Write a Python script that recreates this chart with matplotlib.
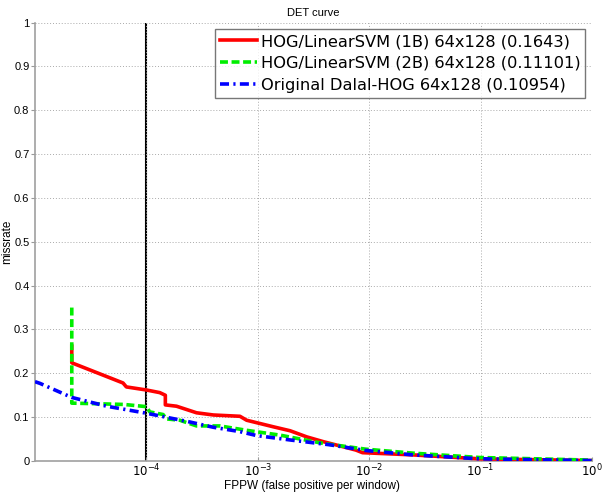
import numpy as np
import matplotlib
matplotlib.use("Agg")
import matplotlib.pyplot as plt

plt.rcParams['font.family'] = ['Liberation Sans', 'DejaVu Sans']

# DET curves, x = log10(FPPW), y = miss rate
x_1b = [-4.67, -4.67, -4.67, -4.21, -4.18, -4.0, -3.88, -3.83, -3.83, -3.73, -3.55,
        -3.40, -3.16, -3.10, -2.86, -2.71, -2.56, -2.41, -2.12, -2.06, -1.61, -1.01, 0.0]
y_1b = [0.262, 0.240, 0.224, 0.178, 0.169, 0.162, 0.156, 0.150, 0.128, 0.125, 0.110,
        0.105, 0.102, 0.093, 0.078, 0.069, 0.055, 0.044, 0.025, 0.019, 0.014, 0.005, 0.001]

x_2b = [-4.67, -4.67, -4.50, -4.20, -4.0, -3.97, -3.85, -3.82, -3.70, -3.55, -3.34,
        -3.10, -2.80, -2.41, -2.03, -1.61, -1.01, 0.0]
y_2b = [0.350, 0.132, 0.131, 0.129, 0.124, 0.112, 0.106, 0.096, 0.093, 0.080, 0.080,
        0.070, 0.059, 0.040, 0.027, 0.018, 0.008, 0.002]

x_dalal = [-5.0, -4.955, -4.67, -4.357, -4.0, -3.61, -3.40, -3.16, -3.01, -2.71,
           -2.354, -2.03, -1.61, -1.01, 0.0]
y_dalal = [0.181, 0.177, 0.145, 0.125, 0.109, 0.089, 0.077, 0.067, 0.058, 0.048,
           0.037, 0.024, 0.014, 0.005, 0.001]

labels = ["HOG/LinearSVM (1B) 64x128 (0.1643)",
          "HOG/LinearSVM (2B) 64x128 (0.11101)",
          "Original Dalal-HOG 64x128 (0.10954)"]

ref_fppw = 1e-4

fig = plt.figure(figsize=(6.08, 4.92), dpi=100)
ax = fig.add_axes([0.0576, 0.063, 0.916, 0.891])

ax.plot([ref_fppw, ref_fppw], [0, 1], color="k", lw=1.5, zorder=1)
ax.plot(10 ** np.array(x_1b), y_1b, color="#ff0000", lw=2.6, ls="-", label=labels[0], zorder=3)
ax.plot(10 ** np.array(x_2b), y_2b, color="#00ee00", lw=2.6, ls=(0, (2.2, 1.0)), label=labels[1], zorder=4)
ax.plot(10 ** np.array(x_dalal), y_dalal, color="#0000ff", lw=2.6, ls=(0, (2.5, 1.2, 0.6, 1.2)),
        label=labels[2], zorder=5)

ax.set_xscale("log")
ax.set_xlim(1e-5, 1)
ax.set_ylim(0, 1)
ax.set_xticks([1e-4, 1e-3, 1e-2, 1e-1, 1e0])
ax.set_xticklabels([r"$10^{-4}$", r"$10^{-3}$", r"$10^{-2}$", r"$10^{-1}$", r"$10^{0}$"])
ax.xaxis.set_minor_locator(matplotlib.ticker.NullLocator())
ax.set_yticks(np.arange(0, 1.01, 0.1))
ax.set_yticklabels(["0"] + ["%.1f" % v for v in np.arange(0.1, 0.95, 0.1)] + ["1"])
ax.tick_params(labelsize=8, length=3, color="#999999", pad=1)
ax.tick_params(axis="x", labelsize=8.5, pad=1, direction="in")

ax.grid(True, ls=(0, (1, 2)), color="#aaaaaa", lw=0.7)
for s in ["top", "right"]:
    ax.spines[s].set_visible(False)
for s in ["left", "bottom"]:
    ax.spines[s].set_color("#a0a0a0")
    ax.spines[s].set_linewidth(1.2)

ax.set_title("DET curve", fontsize=8, pad=5)
ax.set_xlabel("FPPW (false positive per window)", fontsize=8.5, va="bottom")
ax.set_ylabel("missrate", fontsize=8.5)
ax.xaxis.set_label_coords(0.497, -0.0705)
ax.yaxis.set_label_coords(-0.04, 0.5)

leg = ax.legend(loc="upper right", bbox_to_anchor=(1.0, 1.0),
                prop={"family": "DejaVu Sans", "size": 11.7}, frameon=True,
                fancybox=False, edgecolor="#555555", handlelength=2.3, handletextpad=0.25,
                borderpad=0.3, labelspacing=0.42, borderaxespad=0.4)
leg.get_frame().set_linewidth(1.0)

fig.savefig("out.png", dpi=100)
